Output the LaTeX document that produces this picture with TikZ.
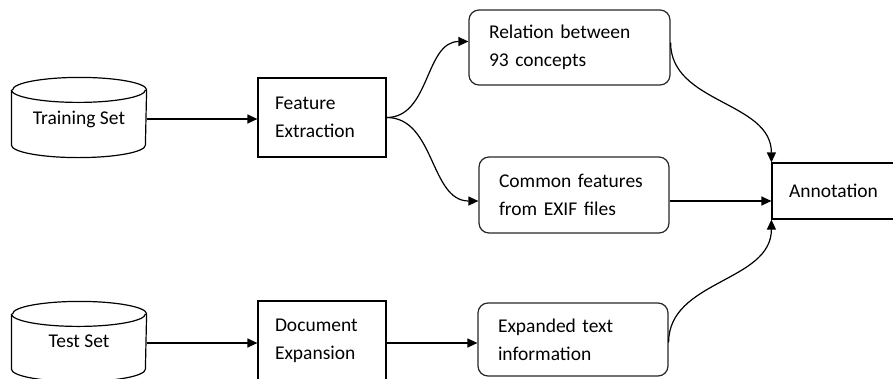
\documentclass[tikz,border=0pt]{standalone}
\usepackage{fontspec}
\setmainfont{Carlito}
\usepackage{tikz}
\usetikzlibrary{shapes.geometric,arrows.meta,positioning,calc}

% database drum drawn round a named node
\newcommand{\drumaround}[1]{%
  \draw[-] ([yshift=-12.5pt]#1.north west) -- ([yshift=12.5pt]#1.south west)
    arc[start angle=180, end angle=360, x radius=67pt, y radius=12.5pt]
    -- ([yshift=-12.5pt]#1.north east)
    arc[start angle=0, end angle=180, x radius=67pt, y radius=12.5pt];
  \draw[-] ([yshift=-12.5pt]#1.north west)
    arc[start angle=180, end angle=360, x radius=67pt, y radius=12.5pt];}

\begin{document}
\begin{tikzpicture}[x=1pt, y=-1pt, ->, >={Triangle[length=10pt,width=9pt]}, line width=1.2pt,
    every node/.style={font=\fontsize{19.5}{28}\selectfont},
    plainbox/.style={draw, rectangle, align=left, inner xsep=17pt, inner ysep=0pt},
    roundbox/.style={draw=black!85, rectangle, rounded corners=10pt, align=left, inner xsep=20pt, inner ysep=0pt},
    dbase/.style={rectangle, minimum width=134pt, minimum height=79pt, inner sep=0pt, text depth=0pt}]
    \clip (0,0) rectangle (893,378);

    \node[dbase] (train) at (79,117.5) {Training Set};
    \node[dbase] (test) at (79,341.5) {Test Set};
    \drumaround{train}
    \drumaround{test}

    \node[plainbox, text width=94pt, minimum height=79pt] (feat) at (322,117.5) {Feature\\Extraction};
    \node[plainbox, text width=94pt, minimum height=79pt] (doc) at (322,340.5) {Document\\Expansion};

    \node[roundbox, text width=161pt, minimum height=75pt] (rel) at (569.5,47.5) {Relation between\\93 concepts};
    \node[roundbox, text width=150pt, minimum height=76pt] (com) at (574,195) {Common features\\from EXIF files};
    \node[roundbox, text width=150pt, minimum height=73pt] (exp) at (573,339.5) {Expanded text\\information};

    \node[plainbox, text width=121pt, minimum height=56pt] (ann) at (849.5,191) {Annotation};

    % input data
    \draw ([yshift=-1.5pt]train.east) -- ([yshift=-1.5pt]train.east -| feat.west);
    \draw ([yshift=-1.5pt]test.east) -- ([yshift=-1.5pt]test.east -| doc.west);
    \draw ([yshift=-2.5pt]doc.east) -- ([yshift=-2.5pt]doc.east -| exp.west);

    % branches of the extracted features
    \draw (feat.east) to[out=0, in=180] ([yshift=6pt]rel.west);
    \draw (feat.east) to[out=0, in=180] ([yshift=-6pt]com.west);

    % into the annotation
    \draw ([yshift=5pt]rel.east) to[out=-90, in=90] (ann.north west);
    \draw ([yshift=-6pt]com.east) -- ([yshift=-10pt]ann.west);
    \draw ([yshift=-3pt]exp.east) to[out=90, in=-90] (ann.south west);
\end{tikzpicture}
\end{document}
